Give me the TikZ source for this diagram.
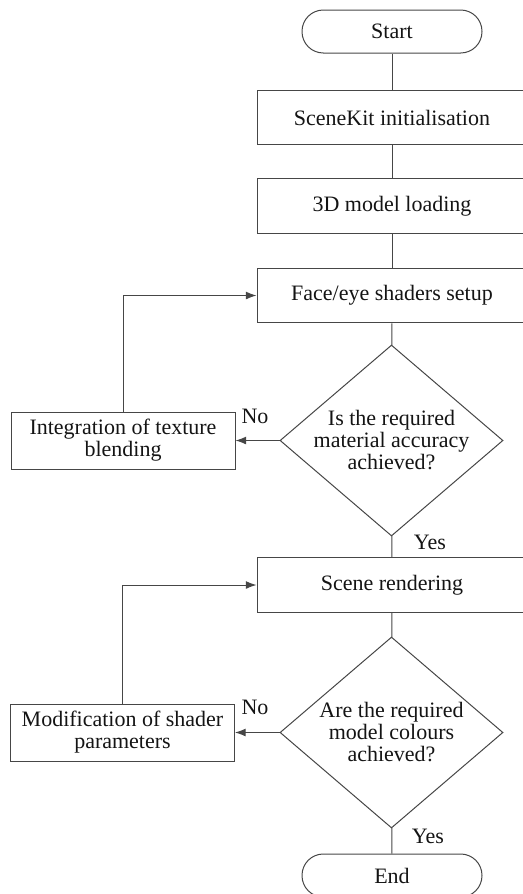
\documentclass[tikz,border=0pt]{standalone}
\usepackage{fontspec}
\setmainfont{Liberation Serif}
\usepackage{tikz}
\usetikzlibrary{arrows.meta,positioning,shapes.geometric}
\definecolor{flwInk}{RGB}{20,20,20}
\definecolor{flwLine}{RGB}{70,70,70}

\begin{document}
\begin{tikzpicture}[x=.75pt,y=-.75pt]
\tikzset{
term/.style={draw=flwLine,line width=.75pt,rounded corners=16pt,minimum width=135pt,minimum height=32.25pt,
font=\fontsize{16.5}{16.5}\selectfont,text=flwInk,inner sep=0pt},
proc/.style={draw=flwLine,line width=.75pt,minimum width=202.5pt,minimum height=41pt,
font=\fontsize{16.5}{16.5}\selectfont,text=flwInk,align=center,inner sep=0pt},
side/.style={draw=flwLine,line width=.75pt,minimum width=168pt,minimum height=42.75pt,
font=\fontsize{16.5}{16.5}\selectfont,text=flwInk,align=center,inner sep=0pt},
decide/.style={diamond,draw=flwLine,line width=.75pt,aspect=1.168,minimum width=167.25pt,minimum height=143.25pt,
font=\fontsize{16.5}{16.5}\selectfont,text=flwInk,align=center,inner sep=-2pt},
tag/.style={font=\fontsize{16.5}{16.5}\selectfont,text=flwInk,inner sep=0pt},
link/.style={draw=flwLine,line width=.75pt},
back/.style={draw=flwLine,line width=.75pt,-{Latex[length=8pt,width=6pt]}}
}
\useasboundingbox (0,0) rectangle (523,894);
\clip (0,0) rectangle (523,894);
% main column
\node[term] (start) at (392,31.5) {Start};
\node[proc] (init) at (392,117.5) {SceneKit initialisation};
\node[proc] (load) at (392,206) {3D model loading};
\node[proc] (shade) at (392,295.5) {Face/eye shaders setup};
\node[decide] (chk1) at (391.5,440.5) {Is the required\\material accuracy\\achieved?};
\node[proc] (render) at (392,585) {Scene rendering};
\node[decide] (chk2) at (391.5,732.5) {Are the required\\model colours\\achieved?};
\node[term] (stop) at (392,875.5) {End};
% side boxes
\node[side] (blend) at (123,440.5) {Integration of texture\\blending};
\node[side] (tune) at (122.5,732.5) {Modification of shader\\parameters};
% connectors
\draw[link] (start) -- (init);
\draw[link] (init) -- (load);
\draw[link] (load) -- (shade);
\draw[link] (shade) -- (chk1);
\draw[link] (chk1) -- (render);
\draw[link] (render) -- (chk2);
\draw[link] (chk2) -- (stop);
\draw[back] (chk1.west) -- (blend.east);
\draw[back] (blend.north) |- (shade.west);
\draw[back] (chk2.west) -- (tune.east);
\draw[back] (tune.north) |- (render.west);
% branch labels
\node[tag] (no1) at (255,416) {No};
\node[tag] (yes1) at (430,542) {Yes};
\node[tag] (no2) at (255,707) {No};
\node[tag] (yes2) at (428,836) {Yes};
\end{tikzpicture}
\end{document}
